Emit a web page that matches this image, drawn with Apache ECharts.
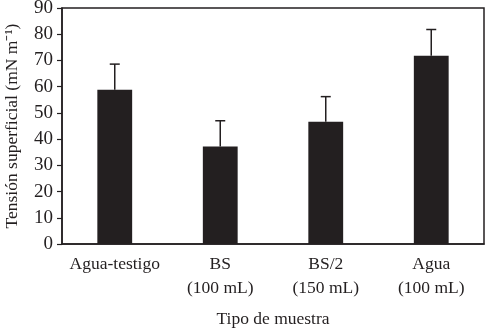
<!DOCTYPE html>
<html>
<head>
<meta charset="utf-8">
<script src="https://cdn.jsdelivr.net/npm/echarts@6/dist/echarts.min.js"></script>
<style>
	html, body { margin: 0; padding: 0; background: #fff; }
	#main { width: 485px; height: 329px; }
</style>
</head>
<body>
<div id="main"></div>
<script>
	// datos
	var categorias = [ "Agua-testigo", "BS\n(100 mL)", "BS/2\n(150 mL)", "Agua\n(100 mL)" ];
	var tension = [ 58.8, 37.2, 46.6, 71.8 ];
	var errorSup = [ 9.8, 9.8, 9.6, 10.0 ];
	var ticksY = [ 0, 10, 20, 30, 40, 50, 60, 70, 80, 90 ];

	var fuente = "Liberation Serif";
	var negro = "#231f20";

	var myChart = echarts.init(document.getElementById('main'));

	var barrasError = tension.map(function(v, i) {
		return [ i, v, v + errorSup[i] ];
	});

	var option = {
		animation : false,
		grid : {
			left : 62,
			right : 1,
			top : 8,
			bottom : 85,
			outerBoundsMode : "none",
			containLabel : false,
			show : true,
			borderColor : negro,
			borderWidth : 1.5,
			backgroundColor : "#fff"
		},
		xAxis : {
			type : "category",
			data : categorias,
			name : "Tipo de muestra",
			nameLocation : "middle",
			nameGap : 66,
			nameTextStyle : {
				fontFamily : fuente,
				fontSize : 17.5,
				color : negro
			},
			axisLine : {
				lineStyle : { color : negro, width : 1.5 }
			},
			axisTick : { show : false },
			axisLabel : {
				fontFamily : fuente,
				fontSize : 17.5,
				color : negro,
				lineHeight : 24,
				margin : 8,
				interval : 0
			}
		},
		yAxis : {
			type : "value",
			min : ticksY[0],
			max : ticksY[ticksY.length - 1],
			interval : 10,
			name : "Tensión superficial (mN m⁻¹)",
			nameLocation : "middle",
			nameGap : 41,
			nameTextStyle : {
				fontFamily : fuente,
				fontSize : 17.5,
				color : negro
			},
			splitLine : { show : false },
			axisLine : {
				show : true,
				lineStyle : { color : negro, width : 1.5 }
			},
			axisTick : {
				show : true,
				length : 5,
				lineStyle : { color : negro, width : 1.2 }
			},
			axisLabel : {
				fontFamily : fuente,
				fontSize : 19,
				color : negro,
				margin : 9
			}
		},
		series : [ {
			name : "Tensión",
			type : "bar",
			data : tension,
			barWidth : "33%",
			itemStyle : { color : negro },
			z : 2
		}, {
			name : "Error",
			type : "custom",
			data : barrasError,
			z : 3,
			renderItem : function(params, api) {
				var base = api.coord([ api.value(0), api.value(1) ]);
				var tope = api.coord([ api.value(0), api.value(2) ]);
				var medio = 5;
				return {
					type : "group",
					children : [ {
						type : "line",
						shape : { x1 : base[0], y1 : base[1], x2 : tope[0], y2 : tope[1] },
						style : { stroke : negro, lineWidth : 1.5 }
					}, {
						type : "line",
						shape : { x1 : tope[0] - medio, y1 : tope[1], x2 : tope[0] + medio, y2 : tope[1] },
						style : { stroke : negro, lineWidth : 1.5 }
					} ]
				};
			}
		} ]
	};

	myChart.setOption(option);
</script>
</body>
</html>
